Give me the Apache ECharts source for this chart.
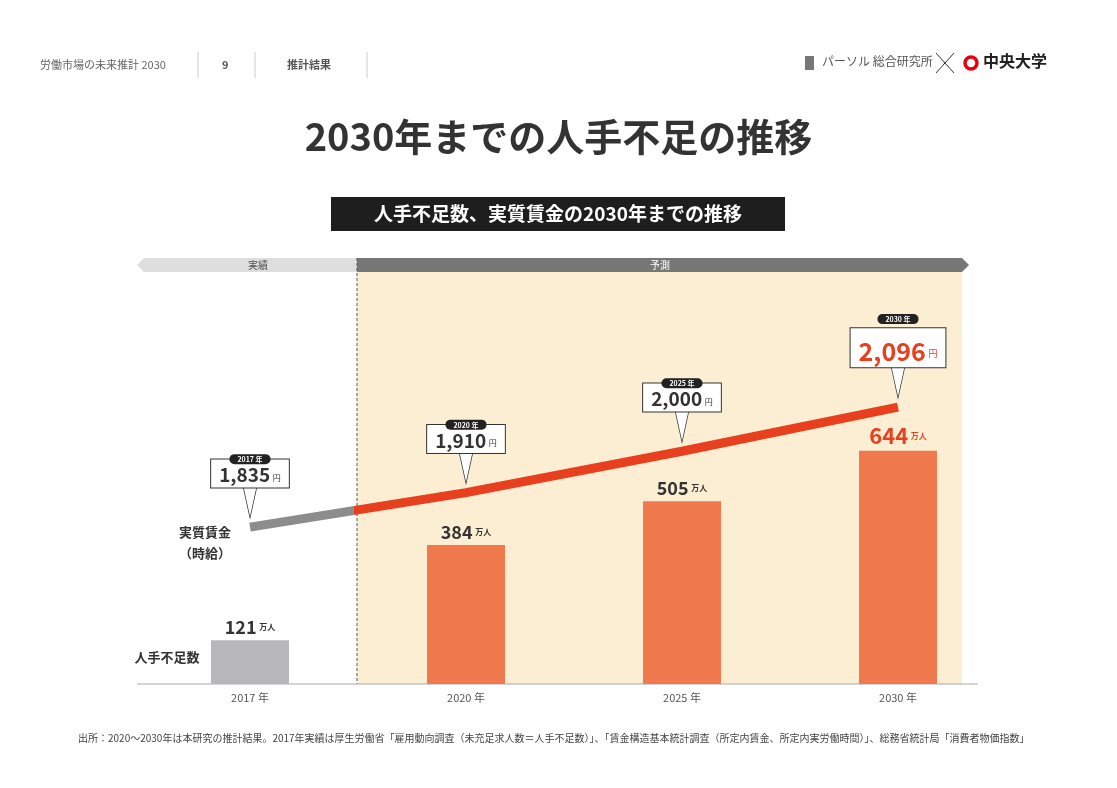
<!DOCTYPE html>
<html><head><meta charset="utf-8">
<script src="https://cdn.jsdelivr.net/npm/echarts@6/dist/echarts.min.js"></script>
<style>html,body{margin:0;padding:0;background:#fff}#c{width:1117px;height:788px}</style>
</head><body><div id="c"></div>
<script>
const categories = ['2017 年','2020 年','2025 年','2030 年'];
const shortage = [121, 384, 505, 644];
const wage = [1835, 1910, 2000, 2096];
const wageYears = ['2017 年','2020 年','2025 年','2030 年'];

const F = '"Noto Sans CJK JP","Noto Sans",sans-serif';
const chart = echarts.init(document.getElementById('c'));
const barColors = ['#b8b8ba','#f07a4e','#f07a4e','#f07a4e'];
const fmtNum = v => v.toLocaleString('en-US');
const split = 0.165;

chart.setOption({
  animation:false,
  textStyle:{fontFamily:F},
  grid:{left:142,right:111,top:322,bottom:104},
  xAxis:{type:'category',data:categories,axisLine:{show:false},axisTick:{show:false},
    axisLabel:{color:'#555',fontSize:11,margin:8}},
  yAxis:[{type:'value',min:0,max:1000,show:false,splitLine:{show:false}},
         {type:'value',min:1494,max:2281,show:false,splitLine:{show:false}}],
  graphic:[
    {type:'text',left:40,top:59,style:{text:'労働市場の未来推計 2030',fill:'#666',font:'11px '+F}},
    {type:'line',shape:{x1:198,y1:52,x2:198,y2:78},style:{stroke:'#ccc'}},
    {type:'text',left:222,top:59,style:{text:'9',fill:'#555',font:'bold 11px '+F}},
    {type:'line',shape:{x1:255,y1:52,x2:255,y2:78},style:{stroke:'#ccc'}},
    {type:'text',left:287,top:59,style:{text:'推計結果',fill:'#555',font:'bold 11px '+F}},
    {type:'line',shape:{x1:367,y1:52,x2:367,y2:78},style:{stroke:'#ccc'}},
    {type:'rect',shape:{x:805,y:56,width:9,height:14},style:{fill:'#777'}},
    {type:'text',left:822,top:55,style:{text:'パーソル 総合研究所',fill:'#555',font:'12px '+F}},
    {type:'line',shape:{x1:936,y1:53,x2:954,y2:73},style:{stroke:'#333'}},
    {type:'line',shape:{x1:954,y1:53,x2:936,y2:73},style:{stroke:'#333'}},
    {type:'circle',shape:{cx:971,cy:63,r:6},style:{fill:'none',stroke:'#e60012',lineWidth:3.5}},
    {type:'text',left:983,top:53,style:{text:'中央大学',fill:'#222',font:'bold 16px '+F}},
    {type:'text',left:'center',top:118,style:{text:'2030年までの人手不足の推移',fill:'#333',font:'bold 38px '+F}},
    {type:'rect',shape:{x:331,y:197,width:454,height:34},style:{fill:'#1e1e1e'}},
    {type:'text',x:558,y:214,style:{text:'人手不足数、実質賃金の2030年までの推移',fill:'#fff',font:'bold 19px '+F,align:'center',verticalAlign:'middle'}},
    {type:'rect',z:-10,shape:{x:357,y:272,width:605,height:412},style:{fill:'#fbeed2'}},
    {type:'polygon',shape:{points:[[137,265],[144,258],[357,258],[357,272],[144,272]]},style:{fill:'#dedede'}},
    {type:'text',x:258,y:265,style:{text:'実績',fill:'#555',font:'10px '+F,align:'center',verticalAlign:'middle'}},
    {type:'polygon',shape:{points:[[357,258],[962,258],[969,265],[962,272],[357,272]]},style:{fill:'#777'}},
    {type:'text',x:660,y:265,style:{text:'予測',fill:'#fff',font:'10px '+F,align:'center',verticalAlign:'middle'}},
    {type:'line',shape:{x1:357,y1:258,x2:357,y2:684},style:{stroke:'#555',lineDash:[3,2],lineWidth:1}},
    {type:'line',shape:{x1:137,y1:684,x2:978,y2:684},style:{stroke:'#aaa',lineWidth:1}},
    {type:'text',x:167,y:657,style:{text:'人手不足数',fill:'#333',font:'bold 13px '+F,align:'center',verticalAlign:'middle'}},
    {type:'text',x:205,y:532,style:{text:'実質賃金',fill:'#333',font:'bold 13px '+F,align:'center',verticalAlign:'middle'}},
    {type:'text',x:205,y:553,style:{text:'（時給）',fill:'#333',font:'bold 13px '+F,align:'center',verticalAlign:'middle'}},
    {type:'text',left:78,top:733,style:{text:'出所：2020～2030年は本研究の推計結果。2017年実績は厚生労働省「雇用動向調査（未充足求人数＝人手不足数）」、「賃金構造基本統計調査（所定内賃金、所定内実労働時間）」、総務省統計局「消費者物価指数」',fill:'#444',font:'10px '+F}}
  ],
  series:[
    {type:'bar',yAxisIndex:0,barWidth:78,z:2,
     data:shortage.map((v,i)=>({value:v,itemStyle:{color:barColors[i]},
       label:i===3?{formatter:'{r|{c}} {rs|万人}'}:{}})),
     label:{show:true,position:'top',distance:4,formatter:'{b|{c}} {s|万人}',
       rich:{b:{fontSize:18,fontWeight:'bold',color:'#333',fontFamily:F},
             s:{fontSize:8,fontWeight:'bold',color:'#333',fontFamily:F},
             r:{fontSize:22,fontWeight:'bold',color:'#e8401f',fontFamily:F},
             rs:{fontSize:8,fontWeight:'bold',color:'#e8401f',fontFamily:F}}}},
    {type:'line',yAxisIndex:1,z:5,symbol:'none',data:wage,
     lineStyle:{width:9,color:{type:'linear',x:0,y:0,x2:1,y2:0,colorStops:[
       {offset:0,color:'#8c8c8c'},{offset:split,color:'#8c8c8c'},{offset:split,color:'#e8401f'},{offset:1,color:'#e8401f'}]}}},
    {type:'scatter',yAxisIndex:1,z:6,data:wage,symbol:'path://M0,0 L14,0 L7,32 Z',symbolSize:[14,32],
     symbolOffset:[0,-25],itemStyle:{color:'#fff',borderColor:'#333',borderWidth:1,opacity:1},
     label:{show:true,position:'top',distance:-2,
       formatter:p=>p.dataIndex===3?'{R|'+fmtNum(p.value)+'} {RU|円}':'{v|'+fmtNum(p.value)+'} {u|円}',
       backgroundColor:'#fff',borderColor:'#333',borderWidth:1,padding:[6,8,3,8],
       rich:{v:{fontSize:19,fontWeight:'bold',color:'#333',fontFamily:F},
             u:{fontSize:8,color:'#333',fontFamily:F,padding:[6,0,0,0]},
             R:{fontSize:25,fontWeight:'bold',color:'#e8401f',fontFamily:F,padding:[5,0,0,0]},
             RU:{fontSize:9,color:'#e8401f',fontFamily:F,padding:[8,0,0,0]}}}},
    {type:'scatter',yAxisIndex:1,z:7,symbol:'circle',symbolSize:0,itemStyle:{opacity:1},
     data:wage.map((v,i)=>({value:v,name:wageYears[i],label:{distance:i===3?83:63}})),
     label:{show:true,position:'top',formatter:p=>p.name,color:'#fff',fontSize:7,fontWeight:'bold',
       backgroundColor:'#222',borderRadius:6,padding:[2,8,1,8],fontFamily:F}}
  ]
});
</script></body></html>
